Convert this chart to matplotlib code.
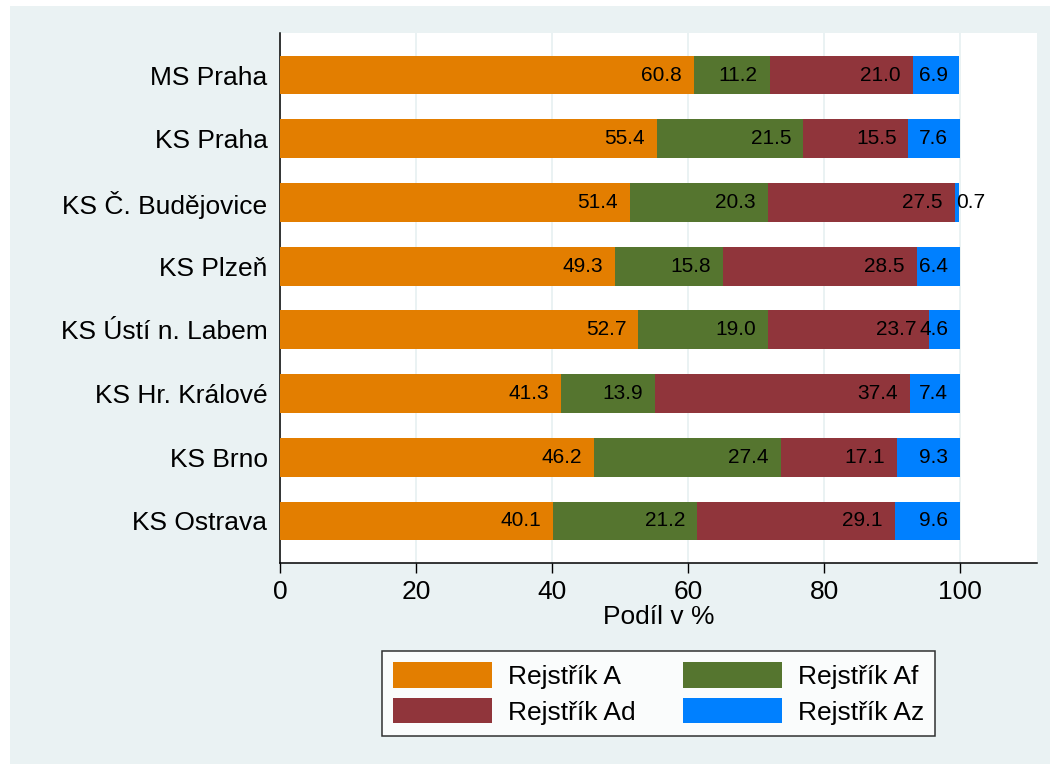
import numpy as np
import matplotlib
matplotlib.use("Agg")
import matplotlib.pyplot as plt
from matplotlib.patches import Rectangle, Patch

plt.rcParams["font.family"] = ["Liberation Sans", "DejaVu Sans"]

# data (podíl v %)
soudy = ["MS Praha", "KS Praha", "KS Č. Budějovice", "KS Plzeň",
         "KS Ústí n. Labem", "KS Hr. Králové", "KS Brno", "KS Ostrava"]
rejstrik_a = [60.8, 55.4, 51.4, 49.3, 52.7, 41.3, 46.2, 40.1]
rejstrik_af = [11.2, 21.5, 20.3, 15.8, 19.0, 13.9, 27.4, 21.2]
rejstrik_ad = [21.0, 15.5, 27.5, 28.5, 23.7, 37.4, 17.1, 29.1]
rejstrik_az = [6.9, 7.6, 0.7, 6.4, 4.6, 7.4, 9.3, 9.6]
series_names = ["Rejstřík A", "Rejstřík Af", "Rejstřík Ad", "Rejstřík Az"]
colors = ["#e37e00", "#55752f", "#90353b", "#0080ff"]

BG = "#eaf2f3"

fig = plt.figure(figsize=(10.5, 7.64), dpi=100, facecolor="white")
fig.patches.append(Rectangle((10 / 1050, 0), 1, (764 - 6) / 764,
                             transform=fig.transFigure, facecolor=BG,
                             edgecolor="none", zorder=-10))
ax = fig.add_axes([280 / 1050, 1 - 563 / 764, 757 / 1050, 530 / 764])
ax.set_facecolor("white")

y = np.arange(len(soudy))
left = np.zeros(len(soudy))
for vals, name, col in zip([rejstrik_a, rejstrik_af, rejstrik_ad, rejstrik_az],
                           series_names, colors):
    vals = np.array(vals)
    ax.barh(y, vals, left=left, height=0.61, color=col, label=name, zorder=3)
    for yi, l, v in zip(y, left, vals):
        if v < 3:
            # úzký segment -> popisek za začátek segmentu
            ax.annotate(f"{v:.1f}", (l, yi), xytext=(1, 0), textcoords="offset points",
                        ha="left", va="center", fontsize=15, zorder=4)
        else:
            ax.annotate(f"{v:.1f}", (l + v, yi), xytext=(-8.6, 0), textcoords="offset points",
                        ha="right", va="center", fontsize=15, zorder=4)
    left += vals

ax.set_xlim(0, 111.3)
ax.set_ylim(7.66, -0.66)
ax.set_yticks(y)
ax.set_yticklabels(soudy, fontsize=19)
ax.set_xticks([0, 20, 40, 60, 80, 100])
ax.tick_params(axis="x", labelsize=19, length=7, width=1, pad=5)
ax.tick_params(axis="y", length=0, pad=9)
ax.grid(axis="x", color=BG, linewidth=1.4, zorder=0)
for s in ["top", "right"]:
    ax.spines[s].set_visible(False)
for s in ["left", "bottom"]:
    ax.spines[s].set_linewidth(1.1)
ax.set_xlabel("Podíl v %", fontsize=19, labelpad=1)

# legenda: řádek 1 = A, Af; řádek 2 = Ad, Az (matplotlib plní po sloupcích)
order = [0, 2, 1, 3]
handles = [Patch(facecolor=colors[i], edgecolor="none") for i in order]
labels = [series_names[i] for i in order]
leg = fig.legend(handles, labels, ncol=2, loc="center",
                 bbox_to_anchor=(658.5 / 1050, 1 - 693.5 / 764),
                 fontsize=19, frameon=True, fancybox=False, edgecolor="black",
                 handlelength=3.75, handleheight=1.1, handletextpad=0.6,
                 columnspacing=1.8, labelspacing=0.35, borderpad=0.42)
leg.get_frame().set_linewidth(1.1)

fig.savefig("out.png", dpi=100, facecolor="white")
